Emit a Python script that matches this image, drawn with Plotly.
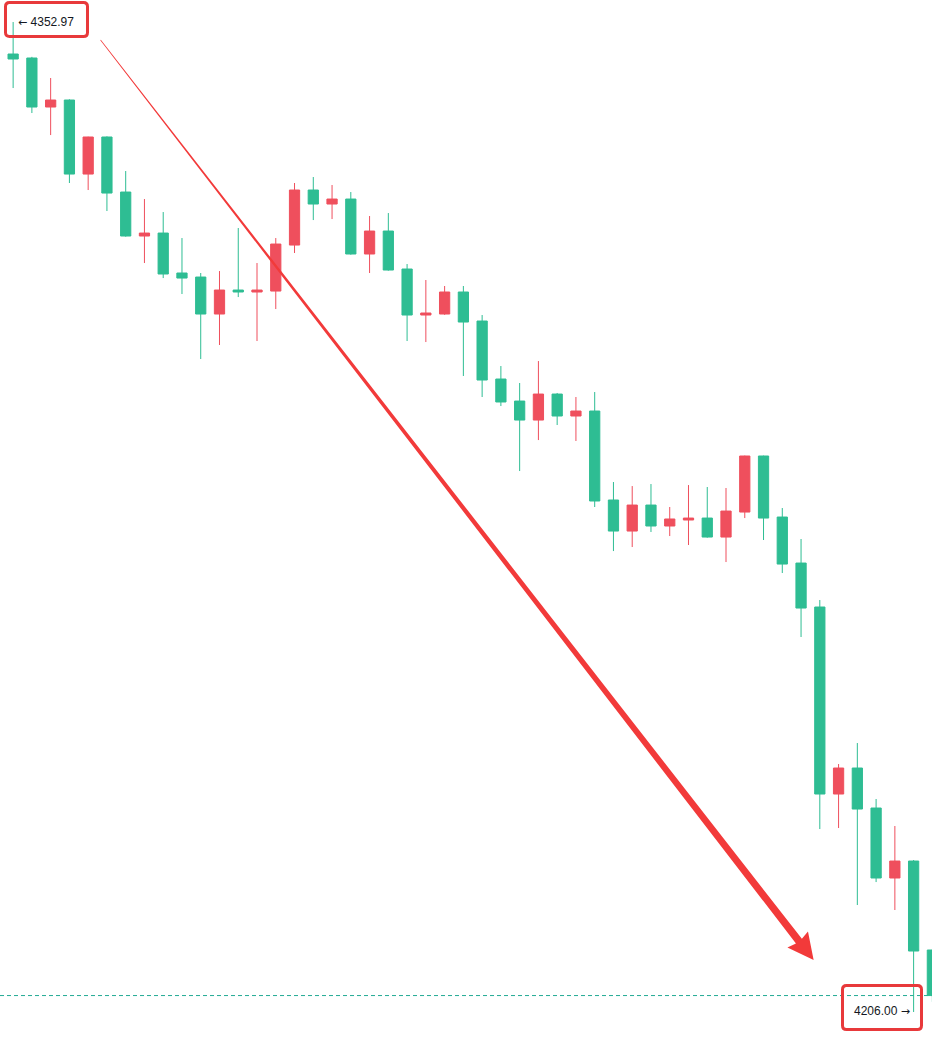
import math
import plotly.graph_objects as go

# ---------------- data ----------------
idx = list(range(51))
open_ = [4339.16, 4348.22, 4347.63, 4340.35, 4341.39, 4330.40, 4335.90, 4327.73, 4321.20, 4321.64,
         4315.71, 4315.11, 4309.62, 4313.18, 4312.89, 4313.03, 4319.86, 4328.03, 4325.95, 4326.69,
         4318.53, 4321.94, 4316.30, 4309.47, 4309.62, 4312.89, 4308.58, 4299.97, 4296.70, 4293.88,
         4297.74, 4294.48, 4295.22, 4282.01, 4277.40, 4281.26, 4278.15, 4279.04, 4279.33, 4276.51,
         4280.22, 4288.54, 4279.48, 4272.65, 4266.12, 4238.36, 4242.22, 4236.28, 4225.89, 4228.41,
         4215.20]
high = [4348.81, 4352.97, 4347.80, 4344.66, 4341.50, 4335.95, 4336.00, 4330.85, 4326.69, 4324.76,
        4320.90, 4315.71, 4316.00, 4322.39, 4317.19, 4320.90, 4329.07, 4329.96, 4328.77, 4327.73,
        4324.17, 4324.61, 4317.04, 4314.67, 4313.78, 4313.78, 4309.47, 4301.90, 4299.38, 4302.64,
        4297.90, 4297.30, 4298.04, 4284.68, 4284.08, 4284.38, 4280.97, 4284.23, 4283.94, 4283.79,
        4288.60, 4288.60, 4280.82, 4276.22, 4267.16, 4242.81, 4245.93, 4237.62, 4233.61, 4228.56,
        4215.30]
low = [4338.72, 4343.17, 4339.46, 4336.19, 4329.07, 4328.03, 4324.91, 4321.10, 4317.19, 4314.96,
       4312.59, 4302.94, 4305.02, 4312.14, 4305.61, 4310.36, 4318.68, 4323.57, 4323.72, 4318.43,
       4315.71, 4316.05, 4305.61, 4305.46, 4309.50, 4300.42, 4297.30, 4295.96, 4286.31, 4290.91,
       4293.14, 4290.77, 4280.97, 4274.43, 4275.03, 4277.26, 4276.66, 4275.33, 4276.41, 4272.80,
       4279.33, 4276.07, 4271.17, 4261.67, 4233.16, 4233.31, 4221.88, 4225.29, 4221.14, 4206.00,
       4207.50]
close = [4348.07, 4347.48, 4340.35, 4341.39, 4330.40, 4335.90, 4327.58, 4321.20, 4321.64, 4315.56,
         4314.96, 4309.62, 4313.18, 4312.89, 4313.18, 4320.01, 4328.03, 4325.95, 4326.69, 4318.53,
         4321.94, 4316.15, 4309.47, 4309.77, 4312.89, 4308.43, 4299.82, 4296.56, 4293.88, 4297.74,
         4294.48, 4295.22, 4281.86, 4277.40, 4281.26, 4278.15, 4279.19, 4279.33, 4276.51, 4280.37,
         4288.54, 4279.33, 4272.50, 4265.97, 4238.36, 4242.22, 4236.13, 4225.89, 4228.41, 4215.05,
         4208.44]

high_text = "4352.97"
low_text = "4206.00"
high_idx, high_val = 1, 4352.97
low_idx, low_val = 49, 4206.00
last_price = 4208.44
arrow_start = (5.66, 4350.3)
arrow_tip = (43.67, 4213.7)

# ---------------- styling ----------------
W, H = 932, 1039
X_RANGE = [0.30, 49.98]
Y_RANGE = [4201.99, 4356.24]
UP = "#ef4f5d"
DOWN = "#2ebd93"
ARROW = "#f23a3a"
BOX = "#e8393b"
ARW = '<span style="font-family:DejaVu Sans;font-size:11px">{}</span>'


def to_px(xv, yv):
    px_ = (xv - X_RANGE[0]) / (X_RANGE[1] - X_RANGE[0]) * W
    py_ = (Y_RANGE[1] - yv) / (Y_RANGE[1] - Y_RANGE[0]) * H
    return px_, py_


def paper(px_, py_):
    return px_ / W, 1 - py_ / H


def path_from_px(points, close_path=True):
    parts = []
    for k, (a, b) in enumerate(points):
        xp, yp = paper(a, b)
        parts.append(("M" if k == 0 else "L") + f"{xp:.5f},{yp:.5f}")
    return " ".join(parts) + (" Z" if close_path else "")


def rounded_rect(x0, y0, x1, y1, r):
    def P(a, b):
        xp, yp = paper(a, b)
        return f"{xp:.5f},{yp:.5f}"
    return (f"M{P(x0 + r, y0)} L{P(x1 - r, y0)} Q{P(x1, y0)} {P(x1, y0 + r)} "
            f"L{P(x1, y1 - r)} Q{P(x1, y1)} {P(x1 - r, y1)} L{P(x0 + r, y1)} "
            f"Q{P(x0, y1)} {P(x0, y1 - r)} L{P(x0, y0 + r)} Q{P(x0, y0)} {P(x0 + r, y0)} Z")


fig = go.Figure()
fig.add_trace(go.Candlestick(
    x=idx, open=open_, high=high, low=low, close=close,
    increasing=dict(line=dict(color=UP, width=1), fillcolor=UP),
    decreasing=dict(line=dict(color=DOWN, width=1), fillcolor=DOWN),
    whiskerwidth=0, hoverinfo="skip",
))

shapes = []
# last price dashed line
shapes.append(dict(type="line", xref="paper", x0=0, x1=1, yref="y", y0=last_price, y1=last_price,
                   line=dict(color="#22ab94", width=1, dash="4px,3px"), layer="below"))

# tapered arrow
sx, sy = to_px(*arrow_start)
tx, ty = to_px(*arrow_tip)
dx, dy = tx - sx, ty - sy
L = math.hypot(dx, dy)
ux, uy = dx / L, dy / L
nx, ny = -uy, ux
head_len, head_hw = 24, 13
w0, w1 = 0.7, 7.5
bx, by = tx - ux * head_len, ty - uy * head_len
poly = [
    (sx + nx * w0 / 2, sy + ny * w0 / 2),
    (bx + nx * w1 / 2, by + ny * w1 / 2),
    (bx + nx * head_hw - ux * 2, by + ny * head_hw - uy * 2),
    (tx, ty),
    (bx - nx * head_hw - ux * 2, by - ny * head_hw - uy * 2),
    (bx - nx * w1 / 2, by - ny * w1 / 2),
    (sx - nx * w0 / 2, sy - ny * w0 / 2),
]
shapes.append(dict(type="path", xref="paper", yref="paper", path=path_from_px(poly),
                   fillcolor=ARROW, line=dict(width=0), layer="above"))

# label boxes
shapes.append(dict(type="path", xref="paper", yref="paper",
                   path=rounded_rect(5.5, 2.5, 87.5, 36.5, 4),
                   line=dict(color=BOX, width=3), fillcolor="rgba(0,0,0,0)", layer="above"))
shapes.append(dict(type="path", xref="paper", yref="paper",
                   path=rounded_rect(842.5, 985.5, 921.5, 1029.5, 4),
                   line=dict(color=BOX, width=3), fillcolor="rgba(0,0,0,0)", layer="above"))

font = dict(family="Liberation Sans, Arial, sans-serif", size=12, color="#131722")
annotations = [
    dict(x=high_idx, y=high_val, xref="x", yref="y", text=ARW.format("←") + " " + high_text,
         showarrow=False, xanchor="left", yanchor="middle", xshift=3, yshift=0, font=font),
    dict(x=low_idx, y=low_val, xref="x", yref="y", text=low_text + " " + ARW.format("→"),
         showarrow=False, xanchor="right", yanchor="middle", xshift=-2, yshift=1, font=font),
]

fig.update_layout(
    width=W, height=H,
    margin=dict(l=0, r=0, t=0, b=0),
    paper_bgcolor="white", plot_bgcolor="white",
    showlegend=False,
    boxgap=0.22,
    xaxis=dict(range=X_RANGE, visible=False, rangeslider=dict(visible=False), fixedrange=True),
    yaxis=dict(range=Y_RANGE, visible=False, fixedrange=True),
    shapes=shapes,
    annotations=annotations,
)

fig.write_html(
    "out.html",
    config={"displayModeBar": False, "staticPlot": True},
    post_script="document.body.style.margin='0';document.body.style.overflow='hidden';",
)
